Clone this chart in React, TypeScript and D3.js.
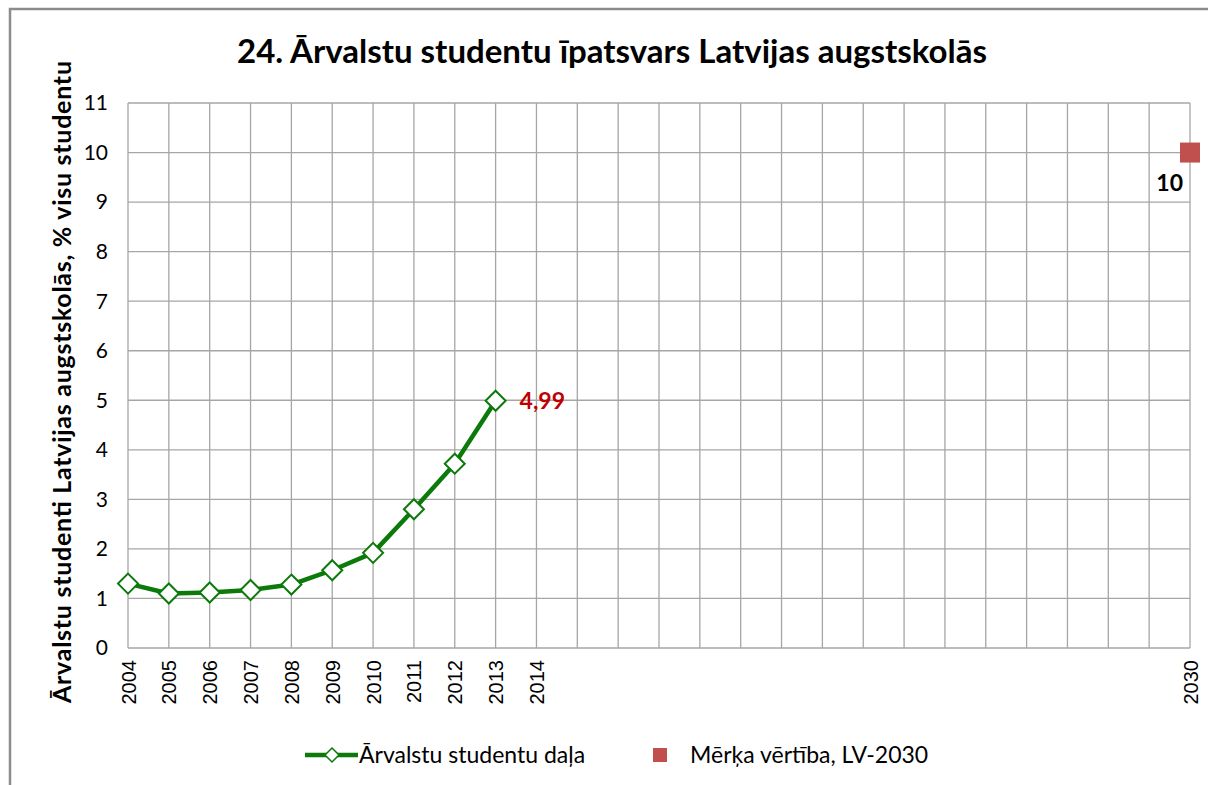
import React from 'react';
import * as d3 from 'd3';

// categories on the x axis (one gridline each)
const years = ['2004', '2005', '2006', '2007', '2008', '2009', '2010', '2011', '2012', '2013', '2014',
  '2015', '2016', '2017', '2018', '2019', '2020', '2021', '2022', '2023', '2024', '2025', '2026',
  '2027', '2028', '2029', '2030'];
const labelledYears = ['2004', '2005', '2006', '2007', '2008', '2009', '2010', '2011', '2012', '2013', '2014', '2030'];

// series: foreign students share
const shareYears = ['2004', '2005', '2006', '2007', '2008', '2009', '2010', '2011', '2012', '2013'];
const shareValues = [1.3, 1.1, 1.12, 1.17, 1.28, 1.57, 1.92, 2.8, 3.72, 4.99];

// target value
const targetYear = '2030';
const targetValue = 10;

const yTicks = [0, 1, 2, 3, 4, 5, 6, 7, 8, 9, 10, 11];

const W = 1208;
const H = 785;
const left = 128;
const right = 1190;
const top = 103;
const bottom = 648;

const green = '#0b7a0b';
const red = '#c0504d';
const font = 'Lato, "Open Sans", sans-serif';

const App = () => {
  const x = d3.scalePoint<string>().domain(years).range([left, right]);
  const y = d3.scaleLinear().domain([0, 11]).range([bottom, top]);

  const points = shareYears.map((yr, i) => ({ yr, v: shareValues[i] }));
  const line = d3.line<{ yr: string; v: number }>()
    .x(d => x(d.yr) as number)
    .y(d => y(d.v));

  const diamond = (cx: number, cy: number, r: number) =>
    `M${cx},${cy - r}L${cx + r},${cy}L${cx},${cy + r}L${cx - r},${cy}Z`;

  const last = points[points.length - 1];
  const tx = x(targetYear) as number;
  const ty = y(targetValue);

  return (
    <div style={{ position: 'absolute', left: 0, top: 0 }}>
      <svg width={W} height={H} style={{ display: 'block', background: '#fff' }}>
        {/* outer chart border */}
        <rect x={10} y={9} width={W + 10} height={H + 10} fill="#fff" stroke="#8c8c8c" strokeWidth={2.5} />

        <text x={612} y={63} textAnchor="middle" fontFamily={font} fontWeight="bold" fontSize={33} fill="#000">
          24. Ārvalstu studentu īpatsvars Latvijas augstskolās
        </text>

        {/* horizontal grid + y ticks */}
        {yTicks.map(t => (
          <g key={t}>
            <line x1={left} x2={right} y1={y(t)} y2={y(t)} stroke="#a6a6a6" strokeWidth={1.3} />
            <text x={108} y={y(t)} dy="0.35em" textAnchor="end" fontFamily={font} fontSize={21} fill="#000">
              {t}
            </text>
          </g>
        ))}

        {/* vertical grid */}
        {years.map(yr => (
          <line key={yr} x1={x(yr)} x2={x(yr)} y1={top} y2={bottom} stroke="#a6a6a6" strokeWidth={1.3} />
        ))}

        {/* x labels */}
        {labelledYears.map(yr => (
          <text
            key={yr}
            transform={`translate(${(x(yr) as number) + 7.5},${bottom + 12}) rotate(-90)`}
            textAnchor="end"
            fontFamily='"Liberation Sans", Arial, sans-serif'
            fontSize={20}
            fill="#000"
          >
            {yr}
          </text>
        ))}

        {/* y axis title */}
        <text
          transform={`translate(71,382) rotate(-90)`}
          textAnchor="middle"
          fontFamily={font}
          fontWeight="bold"
          fontSize={25}
          textLength={642}
          lengthAdjust="spacing"
          fill="#000"
        >
          Ārvalstu studenti Latvijas augstskolās, % visu studentu
        </text>

        {/* series */}
        <path d={line(points) || ''} fill="none" stroke={green} strokeWidth={4.5} strokeLinejoin="round" />
        {points.map(p => (
          <path key={p.yr} d={diamond(x(p.yr) as number, y(p.v), 10)} fill="#fff" stroke={green} strokeWidth={2} />
        ))}
        <text x={(x(last.yr) as number) + 24} y={y(last.v)} dy="0.36em" fontFamily={font} fontWeight="bold" fontSize={23} fill="#c00000">
          {String(last.v).replace('.', ',')}
        </text>

        {/* target */}
        <rect x={tx - 10} y={ty - 10} width={20} height={20} fill={red} />
        <text x={tx - 7} y={ty + 38} textAnchor="end" fontFamily={font} fontWeight="bold" fontSize={23} fill="#000">
          {targetValue}
        </text>

        {/* legend */}
        <line x1={305} x2={358} y1={755} y2={755} stroke={green} strokeWidth={4.5} />
        <path d={diamond(332, 755, 7)} fill="#fff" stroke={green} strokeWidth={1.5} />
        <text x={359} y={755} dy="0.35em" fontFamily={font} fontSize={23} fill="#000">Ārvalstu studentu daļa</text>
        <rect x={653} y={748} width={14} height={14} fill={red} />
        <text x={690} y={755} dy="0.35em" fontFamily={font} fontSize={23} fill="#000">Mērķa vērtība, LV-2030</text>
      </svg>
    </div>
  );
};

export default App;
